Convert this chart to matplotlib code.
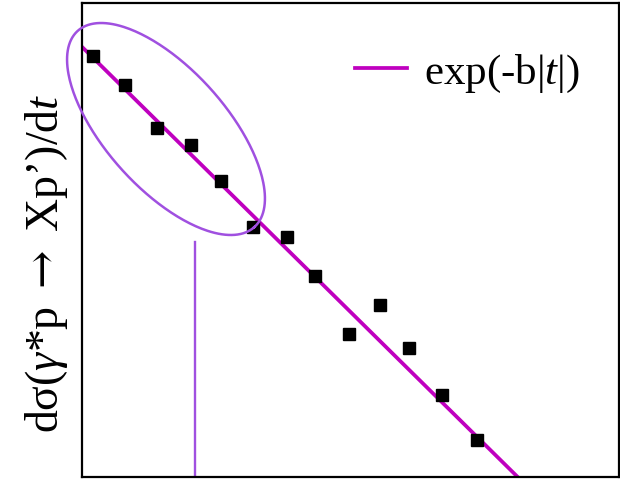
import numpy as np
import matplotlib
matplotlib.use("Agg")
import matplotlib.pyplot as plt

plt.rcParams['font.family'] = ['Liberation Serif', 'DejaVu Serif']
plt.rcParams['mathtext.fontset'] = 'custom'
plt.rcParams['mathtext.rm'] = 'DejaVu Serif'
plt.rcParams['mathtext.it'] = 'Liberation Serif:italic'

# |t| values and cross sections of the measured points
t_abs = [0.021, 0.080, 0.140, 0.203, 0.259, 0.318, 0.382, 0.434, 0.497, 0.555, 0.609, 0.670, 0.736]
dsigma = [3.57, 2.03, 0.881, 0.634, 0.315, 0.129, 0.106, 0.0497, 0.0161, 0.0283, 0.0123, 0.00492, 0.00205]

# exponential fit A*exp(-b|t|)
fit_A = 4.26
fit_b = 10.3

# |t| where the cut line sits
t_cut = 0.21

fig = plt.figure(figsize=(6.2, 4.81), dpi=100)
ax = fig.add_axes([0.1323, 0.0062, 0.8661, 0.9855])

tt = np.linspace(0, 1, 200)
ax.plot(tt, fit_A * np.exp(-fit_b * tt), color='#bf00bf', lw=2.7, label=r'exp(-b|$t$|)', zorder=2)
ax.plot(t_abs, dsigma, 's', color='black', ms=9, zorder=3)

ax.set_yscale('log')
ax.set_xlim(0, 1)
ax.set_ylim(1e-3, 1e1)

# cut line at low |t|
ax.axvline(t_cut, ymin=0, ymax=0.496, color='#a050e0', lw=1.7)

# ellipse around the low-|t| points, built in pixel space so it keeps its shape
fig.canvas.draw()
bb = ax.get_window_extent()
cx, cy = 166.0, 130.0          # centre (pixels, y down)
a_px, b_px, ang = 132.0, 60.0, np.deg2rad(48)
phi = np.linspace(0, 2 * np.pi, 300)
ex = cx + a_px * np.cos(phi) * np.cos(ang) - b_px * np.sin(phi) * np.sin(ang)
ey = cy + a_px * np.cos(phi) * np.sin(ang) + b_px * np.sin(phi) * np.cos(ang)
H = fig.get_size_inches()[1] * fig.dpi
fx = (ex - bb.x0) / bb.width
fy = ((H - ey) - bb.y0) / bb.height
ax.plot(fx, fy, transform=ax.transAxes, color='#a050e0', lw=1.8, clip_on=False, zorder=4)

ax.tick_params(which='both', left=False, bottom=False, labelleft=False, labelbottom=False)
for s in ax.spines.values():
    s.set_linewidth(1.6)

ax.set_ylabel(r'dσ($\gamma$*p $\rightarrow$ Xp’)/d$t$', fontsize=33)
ax.yaxis.set_label_coords(-0.022, 0.454)

ax.legend(loc='center right', frameon=False, fontsize=31, handlelength=1.2,
          handletextpad=0.4, borderpad=0, borderaxespad=0,
          bbox_to_anchor=(0.927, 0.852))

fig.savefig('out.png', dpi=100)
